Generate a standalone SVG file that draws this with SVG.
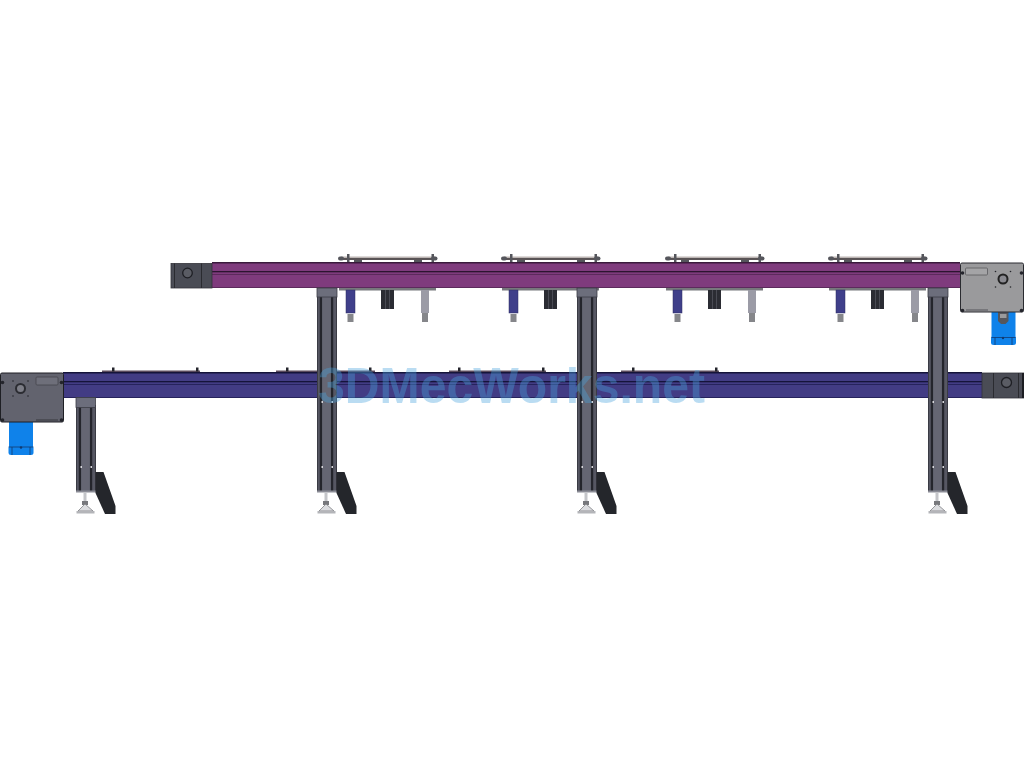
<svg xmlns="http://www.w3.org/2000/svg" width="1024" height="768" viewBox="0 0 1024 768">
<style>
.dk{fill:#24252c}.end{fill:#4a4c55;stroke:#33343a;stroke-width:.8}
.body{fill:#565763}.mid{fill:#656673}.cap{fill:#6c6e7c;stroke:#3c3d46;stroke-width:.8}
.blue{fill:#0f82ea}.wm{font-family:"Liberation Sans",Arial,sans-serif;font-weight:700;font-size:50px;fill:#4aa3dc;fill-opacity:.38}
.pl{fill:#55565c}.band{stroke:#123a70;stroke-width:.8;fill:none}
</style>
<defs>
<g id="carrier">
<rect x="341" y="256.500" width="94" height="2.500" fill="#bdb6b4"/>
<rect x="340" y="258" width="97" height="2" fill="#5a5456"/>
<rect x="338" y="256.500" width="6" height="4" rx="2" class="pl"/><rect x="431" y="256.500" width="6.500" height="4" rx="2" class="pl"/>
<rect x="347" y="254" width="2.500" height="8" class="pl"/><rect x="431.500" y="254" width="2.500" height="8" class="pl"/>
<rect x="354" y="260" width="8" height="2" class="pl"/><rect x="414" y="260" width="8" height="2" class="pl"/>
<rect x="339" y="288" width="97" height="2.500" fill="#77787c"/>
<rect x="346" y="290" width="9" height="23" fill="#3f3f8a" stroke="#2c2c60" stroke-width=".5"/>
<rect x="347.500" y="314" width="6" height="8" fill="#85868a"/>
<rect x="381" y="290" width="13" height="19" fill="#2b2c33"/>
<rect x="385" y="290" width="1" height="19" fill="#4a4b54"/><rect x="389" y="290" width="1" height="19" fill="#4a4b54"/>
<rect x="421" y="290" width="8" height="23" fill="#9b9ba6"/>
<rect x="422" y="313" width="6" height="9" fill="#85868a"/>
</g>
<g id="foot">
<rect x="324.500" y="492" width="3" height="10" fill="#c4c5c9"/>
<rect x="323" y="501" width="6" height="4" fill="#77787c"/>
<path d="M326 504L319 511H334Z" fill="#dcdde0" stroke="#808185" stroke-width=".8"/>
<rect x="317.500" y="511" width="18" height="2.500" fill="#b4b5b9"/>
<path d="M336.500 472H344.500L356.500 506V514H346L336.500 493Z" fill="#24262b"/>
</g>
<g id="shaft">
<rect x="317" y="297" width="20" height="195" class="body"/>
<rect x="319.800" y="297" width="2.400" height="195" class="dk"/><rect x="330.800" y="297" width="2.400" height="195" class="dk"/>
<rect x="322.200" y="297" width="8.600" height="195" class="mid"/>
<rect x="317" y="297" width="1" height="195" fill="#3a3b44"/><rect x="336" y="297" width="1" height="195" fill="#3a3b44"/>
<rect x="317" y="490.500" width="20" height="2" fill="#8a8b95"/>
<rect x="321.500" y="401" width="1.500" height="2" fill="#d8d8dc"/><rect x="331.500" y="401" width="1.500" height="2" fill="#d8d8dc"/>
<rect x="321.500" y="466" width="1.500" height="2" fill="#d8d8dc"/><rect x="331.500" y="466" width="1.500" height="2" fill="#d8d8dc"/>
</g>
<clipPath id="lowclip"><rect x="70" y="405" width="40" height="100"/></clipPath>
</defs>
<rect width="1024" height="768" fill="#fff"/>

<g id="lower-beam">
<rect x="102" y="370.500" width="98" height="2" fill="#5a4a5c"/><rect x="276" y="370.500" width="99" height="2" fill="#5a4a5c"/>
<rect x="449" y="370.500" width="97" height="2" fill="#5a4a5c"/><rect x="621" y="370.500" width="98" height="2" fill="#5a4a5c"/>
<g class="dk"><rect x="112" y="367.500" width="2.500" height="4"/><rect x="196" y="367.500" width="2.500" height="4"/><rect x="286" y="367.500" width="2.500" height="4"/><rect x="369" y="367.500" width="2.500" height="4"/><rect x="458" y="367.500" width="2.500" height="4"/><rect x="542" y="367.500" width="2.500" height="4"/><rect x="632" y="367.500" width="2.500" height="4"/><rect x="715" y="367.500" width="2.500" height="4"/></g>
<rect x="63" y="372" width="919" height="26" fill="#423c84"/>
<rect x="63" y="372" width="919" height="1.500" fill="#15143a"/>
<rect x="63" y="381" width="919" height="1.300" fill="#15143a"/>
<rect x="63" y="384" width="919" height="1" fill="#26235c"/>
<rect x="63" y="397" width="919" height="1" fill="#26235c"/>
</g>

<g id="upper-beam">
<rect x="212" y="262" width="748" height="26" fill="#7f3b7d"/>
<rect x="212" y="262" width="748" height="1.500" fill="#3a1a3c"/>
<rect x="212" y="271" width="748" height="1.300" fill="#2c1430"/>
<rect x="212" y="274" width="748" height="1" fill="#5c2a5c"/>
<rect x="212" y="287" width="748" height="1" fill="#5c2a5c"/>
</g>

<g id="upper-idler">
<rect x="171" y="263.500" width="41" height="24.500" class="end"/>
<rect x="174" y="263.500" width="1" height="24.500" fill="#2a2b30"/><rect x="201" y="263.500" width="1" height="24.500" fill="#2a2b30"/>
<circle cx="187.500" cy="273" r="4.800" fill="#5a5c64" stroke="#1e1f24" stroke-width="1.300"/>
</g>
<g id="lower-idler">
<rect x="982" y="373" width="42" height="25" class="end"/>
<rect x="993" y="373" width="1" height="25" fill="#2a2b30"/><rect x="1018" y="373" width="1" height="25" fill="#2a2b30"/><rect x="1022" y="373" width="2" height="25" fill="#1c1d22"/>
<circle cx="1006.500" cy="382.500" r="5" fill="#5a5c64" stroke="#1e1f24" stroke-width="1.300"/>
</g>

<g id="carriers">
<use href="#carrier"/>
<use href="#carrier" x="163"/>
<use href="#carrier" x="327"/>
<use href="#carrier" x="490"/>
</g>

<g id="leg-1">
<g clip-path="url(#lowclip)"><use href="#shaft" x="-241"/></g>
<rect x="76" y="397.500" width="19.500" height="10" class="cap"/>
<use href="#foot" x="-241"/>
</g>
<g id="leg-2">
<use href="#shaft"/>
<rect x="317" y="288" width="20" height="9" class="cap"/>
<use href="#foot"/>
</g>
<g id="leg-3">
<use href="#shaft" x="260"/>
<rect x="577" y="288" width="20" height="9" class="cap"/>
<use href="#foot" x="260"/>
</g>
<g id="leg-4">
<use href="#shaft" x="611"/>
<rect x="928" y="288" width="20" height="9" class="cap"/>
<use href="#foot" x="611"/>
</g>

<g id="right-drive">
<rect x="991.500" y="312" width="24" height="26" class="blue"/>
<rect x="991" y="336" width="25" height="9" rx="2.500" class="blue"/>
<path d="M991.500 337.500H1015.500M995 337.500V345M1012 337.500V345" class="band"/>
<circle cx="1003" cy="338" r="1.200" fill="#123a70"/>
<path d="M998 312H1008.500V321L1005.500 324H1001L998 321Z" fill="#55565c"/>
<rect x="1000" y="314" width="6.500" height="4" fill="#9a9a9c"/>
<rect x="960.500" y="263" width="63" height="49" rx="1.500" fill="#9a9a9c" stroke="#2a2b30" stroke-width="1"/>
<rect x="965.500" y="268" width="22" height="7" rx="1" fill="#a4a4a6" stroke="#5a5a5e" stroke-width=".8"/>
<rect x="966" y="309" width="22" height="2" fill="#77777b"/>
<circle cx="1003" cy="279" r="4.500" fill="#8a8a90" stroke="#222" stroke-width="2"/>
<g class="dk"><circle cx="962.500" cy="273" r="1.800"/><circle cx="1021.500" cy="273" r="1.800"/><circle cx="962.500" cy="310.500" r="1.800"/><circle cx="1021.500" cy="310.500" r="1.800"/><circle cx="995.500" cy="271.500" r=".8"/><circle cx="1010.500" cy="271.500" r=".8"/><circle cx="995.500" cy="287" r=".8"/><circle cx="1010.500" cy="287" r=".8"/></g>
</g>

<g id="left-drive">
<rect x="9" y="422" width="24" height="25" class="blue"/>
<rect x="8.500" y="446" width="25" height="9" rx="2.500" class="blue"/>
<path d="M8.500 447H33.500M12 447V455M30 447V455" class="band"/>
<circle cx="21" cy="447.500" r="1.200" fill="#123a70"/>
<rect x=".5" y="373" width="63" height="49" rx="1.500" fill="#62636e" stroke="#1e1f24" stroke-width="1"/>
<rect x="36" y="377" width="22" height="8" rx="1" fill="#6e6f7a" stroke="#44454c" stroke-width=".8"/>
<rect x="36" y="419" width="22" height="2" fill="#4c4d55"/>
<circle cx="20.500" cy="388.500" r="4.500" fill="#7c7d86" stroke="#2b2c32" stroke-width="2"/>
<g class="dk"><circle cx="2.500" cy="382.500" r="1.800"/><circle cx="61.500" cy="382.500" r="1.800"/><circle cx="2.500" cy="420" r="1.800"/><circle cx="61.500" cy="420" r="1.800"/><circle cx="13" cy="381" r=".8"/><circle cx="28" cy="381" r=".8"/><circle cx="13" cy="396" r=".8"/><circle cx="28" cy="396" r=".8"/></g>
</g>

<text class="wm" x="318" y="403" textLength="387" lengthAdjust="spacingAndGlyphs">3DMecWorks.net</text>
</svg>
